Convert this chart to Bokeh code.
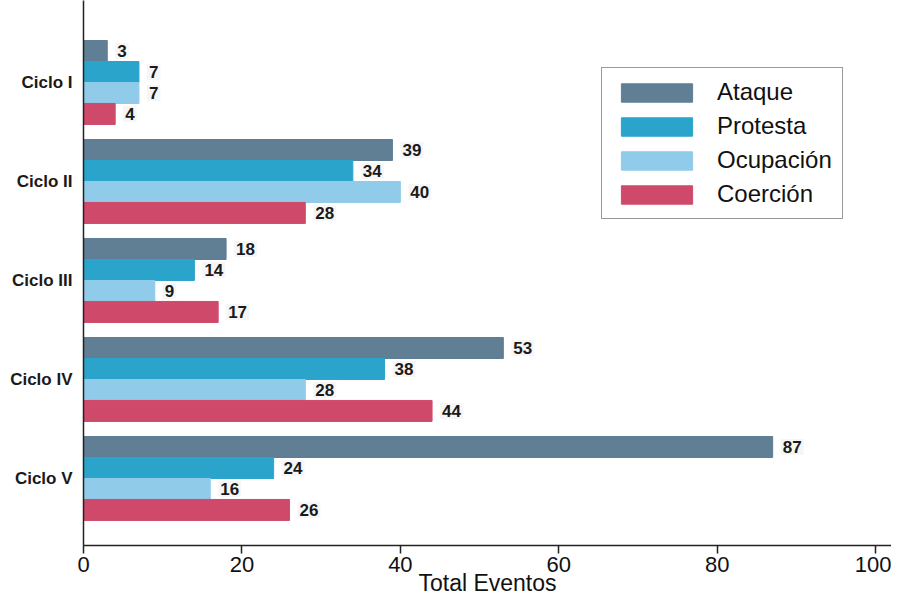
from bokeh.plotting import figure
from bokeh.models import Range1d, FixedTicker, ColumnDataSource, Legend, LegendItem
from bokeh.embed import file_html
from bokeh.resources import INLINE
from bokeh.core.properties import value

categories = ["Ciclo I", "Ciclo II", "Ciclo III", "Ciclo IV", "Ciclo V"]
series = ["Ataque", "Protesta", "Ocupación", "Coerción"]
ataque = [3, 39, 18, 53, 87]
protesta = [7, 34, 14, 38, 24]
ocupacion = [7, 40, 9, 28, 16]
coercion = [4, 28, 17, 44, 26]
x_ticks = [0, 20, 40, 60, 80, 100]
x_title = "Total Eventos"

values = [ataque, protesta, ocupacion, coercion]
colors = ["#607f95", "#2ba4cc", "#90cbea", "#cf4a6a"]
offsets = [-0.318, -0.106, 0.106, 0.318]
bar_h = 0.212

FONT = "Liberation Sans"
Y_BOTTOM = 4.677

p = figure(width=891, height=598, output_backend="svg", toolbar_location=None,
           x_range=Range1d(0, 102.0), y_range=Range1d(Y_BOTTOM, -0.828),
           min_border_left=83, min_border_right=0, min_border_top=0, min_border_bottom=51)
p.outline_line_color = None
p.xgrid.visible = False
p.ygrid.visible = False
p.background_fill_color = "white"

items = []
for name, vals, col, off in zip(series, values, colors, offsets):
    ys = [i + off for i in range(len(categories))]
    src = ColumnDataSource(dict(y=ys, x=vals, lab=[str(v) for v in vals]))
    r = p.hbar(y="y", right="x", left=0, height=bar_h, source=src,
               fill_color=col, line_color=col, line_width=1)
    items.append(LegendItem(label=name, renderers=[r]))
    p.text(x="x", y="y", text="lab", source=src, x_offset=8,
           text_baseline="middle", text_align="left",
           text_font=value(FONT), text_font_size="17px", text_font_style="bold",
           text_color="#1a1a1a",
           background_fill_color="#f6f6f6", padding=2)

legend = Legend(items=items, location=(518, 326), orientation="vertical")
legend.glyph_width = 89
legend.glyph_height = 23
legend.label_height = 23
legend.label_standoff = 16
legend.spacing = 6
legend.padding = 10
legend.margin = 0
legend.label_text_font = FONT
legend.label_text_font_size = "24px"
legend.label_text_color = "#111111"
legend.border_line_color = "#333333"
legend.border_line_width = 1.5
legend.background_fill_color = "white"
legend.background_fill_alpha = 1
p.add_layout(legend, "center")

# x axis
p.xaxis.ticker = FixedTicker(ticks=x_ticks)
p.xaxis.axis_label = x_title
p.xaxis.axis_label_text_font = FONT
p.xaxis.axis_label_text_font_style = "normal"
p.xaxis.axis_label_text_font_size = "23px"
p.xaxis.axis_label_text_color = "#111111"
p.xaxis.axis_label_standoff = -5
p.xaxis.major_label_text_font = FONT
p.xaxis.major_label_text_font_size = "22px"
p.xaxis.major_label_text_color = "#111111"
p.xaxis.axis_line_color = "#222222"
p.xaxis.axis_line_width = 1.5
p.xaxis.major_tick_line_color = "#222222"
p.xaxis.major_tick_line_width = 1.5
p.xaxis.major_tick_out = 8
p.xaxis.major_tick_in = 0
p.xaxis.minor_tick_line_color = None
p.xaxis.major_label_standoff = 3

# y axis
p.yaxis.ticker = FixedTicker(ticks=list(range(len(categories))))
p.yaxis.major_label_overrides = {i: c for i, c in enumerate(categories)}
p.yaxis.major_label_text_font = FONT
p.yaxis.major_label_text_font_size = "17px"
p.yaxis.major_label_text_font_style = "bold"
p.yaxis.major_label_text_color = "#1a1a1a"
p.yaxis.axis_line_color = "#222222"
p.yaxis.axis_line_width = 1.5
p.yaxis.major_tick_line_color = None
p.yaxis.minor_tick_line_color = None
p.yaxis.major_label_standoff = 5

open("out.html", "w").write(file_html(p, INLINE))
